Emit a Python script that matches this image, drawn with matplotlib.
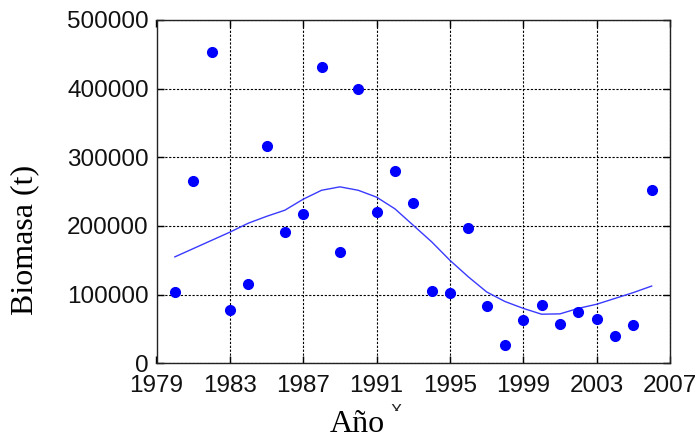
import matplotlib
matplotlib.use("Agg")
import matplotlib.pyplot as plt
from matplotlib.transforms import Bbox

years = [1980, 1981, 1982, 1983, 1984, 1985, 1986, 1987, 1988, 1989, 1990,
         1991, 1992, 1993, 1994, 1995, 1996, 1997, 1998, 1999, 2000, 2001,
         2002, 2003, 2004, 2005, 2006]
biomasa = [104000, 266000, 453000, 78000, 115000, 316000, 191000, 218000,
           432000, 162000, 400000, 220000, 280000, 234000, 105000, 102000,
           197000, 83000, 27000, 63000, 85000, 57000, 75000, 65000, 40000,
           56000, 252000]
curve = [155000, 167000, 179000, 191000, 204000, 214000, 223000, 239000,
         252000, 257000, 252000, 242000, 225000, 201000, 177000, 150000,
         126000, 104000, 90000, 80000, 71500, 72000, 80000, 86000, 94500,
         103000, 112500]
xticks = [1979, 1983, 1987, 1991, 1995, 1999, 2003, 2007]
yticks = [0, 100000, 200000, 300000, 400000, 500000]

W, H = 699, 446
fig = plt.figure(figsize=(W / 100, H / 100), dpi=100)
ax = fig.add_axes([156.5 / W, 1 - 363.3 / H, (670 - 156.5) / W, (363.3 - 20) / H])

ax.plot(years, curve, color="#3a3aff", lw=1.0, zorder=2)
ax.plot(years, biomasa, "o", color="blue", ms=7, mec="blue", zorder=3)

ax.set_xlim(1979, 2007)
ax.set_ylim(0, 500000)
ax.set_xticks(xticks)
ax.set_yticks(yticks)
ax.set_xticklabels([str(v) for v in xticks])
ax.set_yticklabels([str(v) for v in yticks])

for lab in ax.get_xticklabels() + ax.get_yticklabels():
    lab.set_fontfamily(["Liberation Sans Narrow", "Liberation Sans", "DejaVu Sans"])
    lab.set_fontsize(17.5)
    lab.set_color("#111111")

ax.grid(True, color="black", linestyle=(0, (2, 1.5)), linewidth=0.8)
ax.tick_params(direction="in", length=5, width=1, top=True, right=True)
ax.tick_params(axis="x", pad=8.5)
ax.tick_params(axis="y", pad=5.5)
for s in ax.spines.values():
    s.set_linewidth(1.0)
    s.set_color("#222222")

fig.text(25 / W, 1 - 240 / H, "Biomasa (t)", rotation=90, ha="center", va="center",
         family=["Liberation Serif", "DejaVu Serif"], fontsize=23)
fig.text(357 / W, 1 - 424 / H, "Año", ha="center", va="center",
         family=["Liberation Serif", "DejaVu Serif"], fontsize=23)

t = fig.text(396 / W, 1 - 404 / H, "X", ha="center", va="top",
             family=["Liberation Sans", "DejaVu Sans"], fontsize=12, color="#222222")
t.set_clip_on(True)
t.set_clip_box(Bbox.from_extents(380, H - 411, 412, H - 400))

fig.savefig("out.png", dpi=100)
